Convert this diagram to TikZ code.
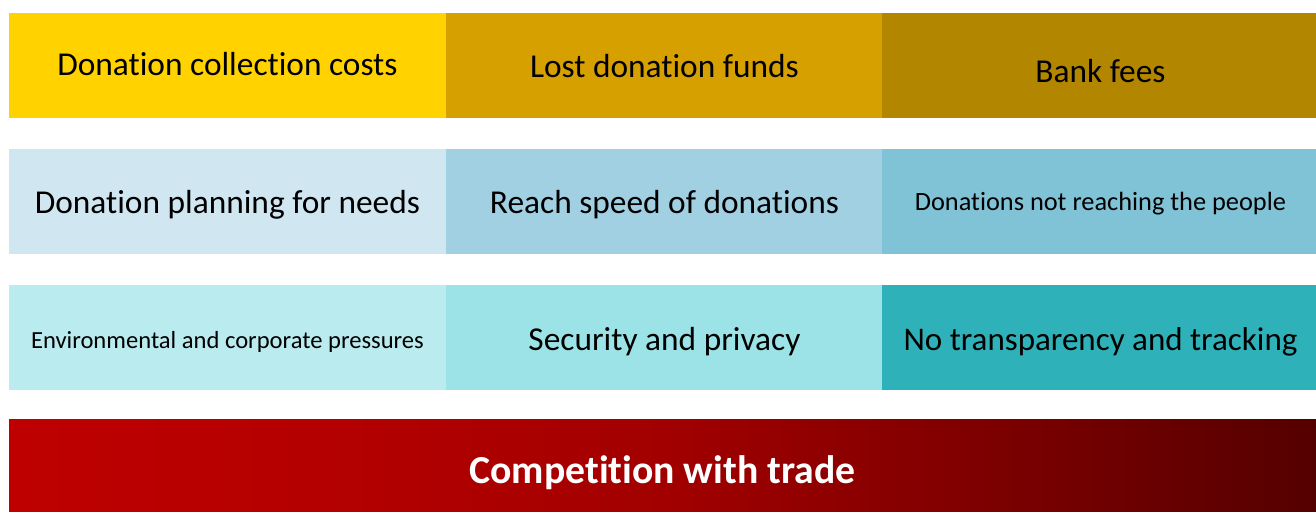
\documentclass[tikz,border=0pt]{standalone}
\usepackage{fontspec}
\setmainfont{Carlito}[Ligatures=NoCommon]

\definecolor{goldA}{RGB}{255,210,0}
\definecolor{goldB}{RGB}{214,160,0}
\definecolor{goldC}{RGB}{179,134,0}
\definecolor{blueA}{RGB}{208,230,240}
\definecolor{blueB}{RGB}{162,208,227}
\definecolor{blueC}{RGB}{128,194,214}
\definecolor{tealA}{RGB}{186,235,239}
\definecolor{tealB}{RGB}{155,227,230}
\definecolor{tealC}{RGB}{46,177,184}
\definecolor{redA}{RGB}{190,0,0}
\definecolor{redB}{RGB}{180,0,0}
\definecolor{redC}{RGB}{162,0,0}
\definecolor{redD}{RGB}{125,0,0}
\definecolor{redE}{RGB}{85,0,0}

% tikz fits the box to the middle 25bp--75bp of the shading
\pgfdeclarehorizontalshading{tradeshade}{100bp}{color(0bp)=(redA); color(25bp)=(redA);
  color(37.5bp)=(redB); color(50bp)=(redC); color(62.5bp)=(redD); color(75bp)=(redE);
  color(100bp)=(redE)}

\tikzset{
  cell/.style={anchor=north west, minimum width=8.74cm, minimum height=2.1cm,
    inner sep=0pt, outer sep=0pt},
  bigtext/.style={font=\fontsize{19}{22}\selectfont},
  smalltext/.style={font=\fontsize{14}{16}\selectfont}
}

\begin{document}
\begin{tikzpicture}[x=0.02cm,y=-0.02cm]
  \useasboundingbox (0,0) rectangle (1316,512);

  % costs row
  \node[cell, fill=goldA, label={[bigtext, yshift=0.03cm]center:Donation collection costs}] (collect) at (9,13) {};
  \node[cell, fill=goldB, label={[bigtext, yshift=-0.02cm]center:Lost donation funds}] (lost) at (446,13) {};
  \node[cell, fill=goldC, label={[bigtext, yshift=-0.12cm]center:Bank fees}] (bank) at (882,13) {};

  % planning row
  \node[cell, fill=blueA, label={[bigtext, yshift=-0.06cm]center:Donation planning for needs}] (planning) at (9,149) {};
  \node[cell, fill=blueB, label={[bigtext, yshift=-0.06cm]center:Reach speed of donations}] (speed) at (446,149) {};
  \node[cell, fill=blueC, label={[font=\fontsize{15}{17}\selectfont, yshift=-0.04cm]center:Donations not reaching the people}] (reaching) at (882,149) {};

  % pressure row
  \node[cell, fill=tealA, label={[smalltext, yshift=-0.08cm]center:Environmental and corporate pressures}] (pressures) at (9,285) {};
  \node[cell, fill=tealB, label={[bigtext, yshift=-0.08cm]center:Security and privacy}] (security) at (446,285) {};
  \node[cell, fill=tealC, label={[font=\fontsize{18.8}{22}\selectfont, yshift=-0.08cm]center:No transparency and tracking}] (tracking) at (882,285) {};

  \node[cell, minimum width=26.14cm, minimum height=1.86cm, shading=tradeshade,
    label={[yshift=-0.14cm, text=white, font=\fontsize{22.6}{26}\selectfont\bfseries]center:Competition with trade}]
    (trade) at (9,419) {};
\end{tikzpicture}
\end{document}
